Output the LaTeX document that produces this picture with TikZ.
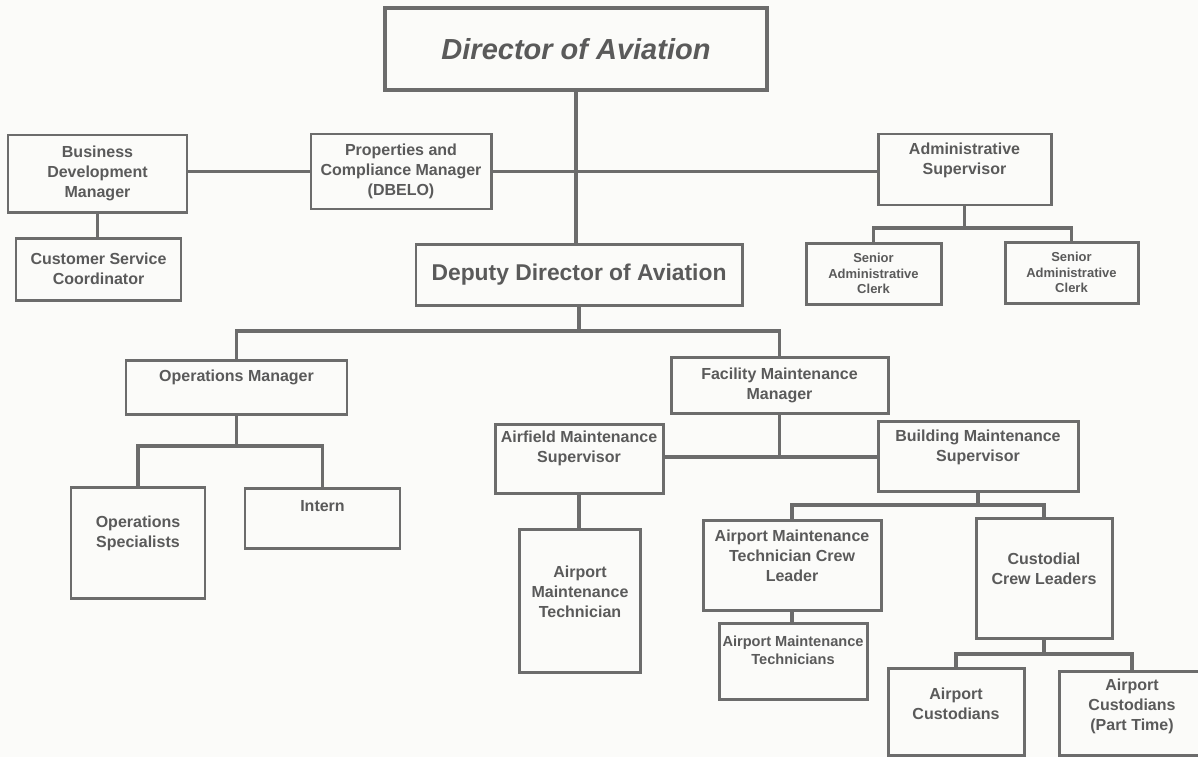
\documentclass[tikz,border=0pt]{standalone}
\usepackage{fontspec}
\setmainfont{Liberation Sans}
\definecolor{linegray}{RGB}{108,108,108}
\definecolor{textgray}{RGB}{90,90,90}
\definecolor{paper}{RGB}{251,251,249}

\begin{document}
\begin{tikzpicture}[x=0.2mm, y=-0.2mm,
    box/.style 2 args={draw=linegray, line width=1.7pt, minimum width=#1*0.2mm,
      minimum height=#2*0.2mm, inner sep=0pt, align=center, text=textgray},
    toptext/.style={anchor=north, inner sep=0pt, align=center, text=textgray, yshift=-#1*0.2mm},
    link/.style={draw=linegray, line width=1.8pt},
    font=\bfseries\fontsize{9.1}{11.4}\selectfont]

  \path[use as bounding box, fill=paper] (0,0) rectangle (1198,757);

  % Leitung
  \node[box={382}{82}, line width=2.6pt, font=\bfseries\itshape\fontsize{16.5}{20}\selectfont] (dir) at (576,49) {Director of Aviation};
  \node[box={179}{77}] (bdm) at (97.5,173.5) {Business\\Development\\Manager};
  \node[box={180}{75}] (pcm) at (401,171.5) {Properties and\\Compliance Manager\\(DBELO)};
  \node[box={173}{71}, label={[toptext=10]north:{Administrative\\Supervisor}}] (adm) at (964.5,169.5) {};
  \node[box={165}{62}] (csc) at (98.5,269) {Customer Service\\Coordinator};
  \node[box={326}{61}, font=\bfseries\fontsize{13}{16}\selectfont] (dep) at (579,274.5) {Deputy Director of Aviation};
  \node[box={135}{61}, font=\bfseries\fontsize{7.4}{8.8}\selectfont] (sac1) at (873.5,273.5) {Senior\\Administrative\\Clerk};
  \node[box={133}{61}, font=\bfseries\fontsize{7.4}{8.8}\selectfont] (sac2) at (1071.5,272.5) {Senior\\Administrative\\Clerk};

  % Betrieb
  \node[box={221}{54}, label={[toptext=11]north:Operations Manager}] (opm) at (236.5,387) {};
  \node[box={134}{111}, label={[toptext=30]north:{Operations\\Specialists}}] (ops) at (138,542.5) {};
  \node[box={155}{60}, label={[toptext=14]north:Intern}] (int) at (322.5,518) {};

  % Instandhaltung
  \node[box={217}{56}] (fmm) at (779.5,385) {Facility Maintenance\\Manager};
  \node[box={168}{69}, label={[toptext=8]north:{Airfield Maintenance\\Supervisor}}] (afs) at (579,458.5) {};
  \node[box={200}{70}, label={[toptext=10]north:{Building Maintenance\\Supervisor}}] (bms) at (978,456) {};
  \node[box={121}{143}, label={[toptext=38]north:{Airport\\Maintenance\\Technician}}] (amt) at (580,600.5) {};
  \node[box={178}{90}, label={[toptext=11]north:{Airport Maintenance\\Technician Crew\\Leader}}] (amtcl) at (792,565) {};
  \node[box={136}{120}, label={[toptext=36]north:{Custodial\\Crew Leaders}}] (ccl) at (1044,578) {};
  \node[box={148}{76}, label={[toptext=14, font=\bfseries\fontsize{8.3}{10.2}\selectfont]north:{Airport Maintenance\\Technicians}}] (amts) at (793,661) {};
  \node[box={136}{87}, label={[toptext=21]north:{Airport\\Custodians}}] (ac) at (956,711.5) {};
  \node[box={146}{84}, label={[toptext=9]north:{Airport\\Custodians\\(Part Time)}}] (acp) at (1132,713) {};

  % Verbindungen oben
  \draw[link] (dir.south) -- (dir.south |- dep.north);
  \draw[link] (bdm.east |- pcm.west) -- (pcm.west);
  \draw[link] (pcm.east) -- (pcm.east -| adm.west);
  \draw[link] (bdm.south) -- (bdm.south |- csc.north);

  \coordinate (adm bus) at (964.5,228);
  \draw[link] (adm.south) -- (adm bus);
  \draw[link] (sac1.north) |- (adm bus) -| (sac2.north);

  % Verbindungen unten
  \coordinate (dep bus) at (579,331);
  \draw[link] (dep.south) -- (dep bus);
  \draw[link] (opm.north) |- (dep bus) -| (fmm.north);

  \coordinate (opm bus) at (236.5,446);
  \draw[link] (opm.south) -- (opm bus);
  \draw[link] (ops.north) |- (opm bus) -| (int.north);

  \coordinate (fmm bus) at (779.5,457);
  \draw[link] (fmm.south) -- (fmm bus);
  \draw[link] (afs.east |- fmm bus) -- (bms.west |- fmm bus);
  \draw[link] (afs.south) -- (afs.south |- amt.north);

  \coordinate (bms bus) at (978,505);
  \draw[link] (bms.south) -- (bms bus);
  \draw[link] (amtcl.north) |- (bms bus) -| (ccl.north);
  \draw[link] (amtcl.south) -- (amtcl.south |- amts.north);

  \coordinate (ccl bus) at (1044,654);
  \draw[link] (ccl.south) -- (ccl bus);
  \draw[link] (ac.north) |- (ccl bus) -| (acp.north);

\end{tikzpicture}
\end{document}
